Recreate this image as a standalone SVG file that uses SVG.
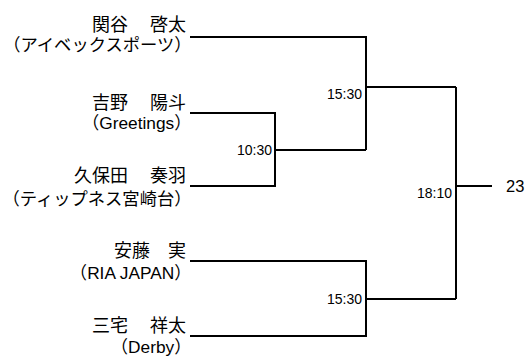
<svg xmlns="http://www.w3.org/2000/svg" width="528" height="358" viewBox="0 0 528 358">
<style>
.nm{font-family:"Liberation Sans","Noto Sans CJK JP",sans-serif;font-size:18px;fill:#000;text-anchor:end}
.af{font-family:"Liberation Sans","Noto Sans CJK JP",sans-serif;font-size:17.3px;fill:#000;text-anchor:end}
.sc{font-family:"Liberation Sans","Noto Sans CJK JP",sans-serif;font-size:14px;fill:#000;text-anchor:end}
.res{font-family:"Liberation Sans","Noto Sans CJK JP",sans-serif;font-size:16.5px;fill:#000}
.ln{fill:none;stroke:#000;stroke-width:2}
</style>
<rect width="528" height="358" fill="#fff"/>
<g id="connectors">
<path class="ln" d="M190,113 H275 V186 H190"/>
<path class="ln" d="M275,150 H366"/>
<path class="ln" d="M190,37 H366 V150"/>
<path class="ln" d="M366,87 H456"/>
<path class="ln" d="M190,261 H366 V336 H190"/>
<path class="ln" d="M366,299 H456"/>
<path class="ln" d="M456,87 V299"/>
<path class="ln" d="M456,186 H492"/>
</g>
<g id="p1">
<text class="nm" x="186" y="31">関谷<tspan dx="22">啓太</tspan></text>
<text class="af" x="191.5" y="51">（アイベックスポーツ）</text>
</g>
<g id="p2">
<text class="nm" x="186" y="109">吉野<tspan dx="22">陽斗</tspan></text>
<text class="af" x="191.5" y="129">（Greetings）</text>
</g>
<g id="p3">
<text class="nm" x="186" y="182">久保田<tspan dx="22">奏羽</tspan></text>
<text class="af" x="191.5" y="205">（ティップネス宮崎台）</text>
</g>
<g id="p4">
<text class="nm" x="186" y="257">安藤<tspan dx="18">実</tspan></text>
<text class="af" x="191.5" y="279">（RIA JAPAN）</text>
</g>
<g id="p5">
<text class="nm" x="186" y="332">三宅<tspan dx="22">祥太</tspan></text>
<text class="af" x="191.5" y="353">（Derby）</text>
</g>
<g id="m1"><text class="sc" x="272" y="155">10:30</text></g>
<g id="m2"><text class="sc" x="362" y="99">15:30</text></g>
<g id="m3"><text class="sc" x="362" y="304">15:30</text></g>
<g id="m4"><text class="sc" x="452" y="198">18:10</text></g>
<g id="winner"><text class="res" x="506" y="192">23</text></g>
</svg>
